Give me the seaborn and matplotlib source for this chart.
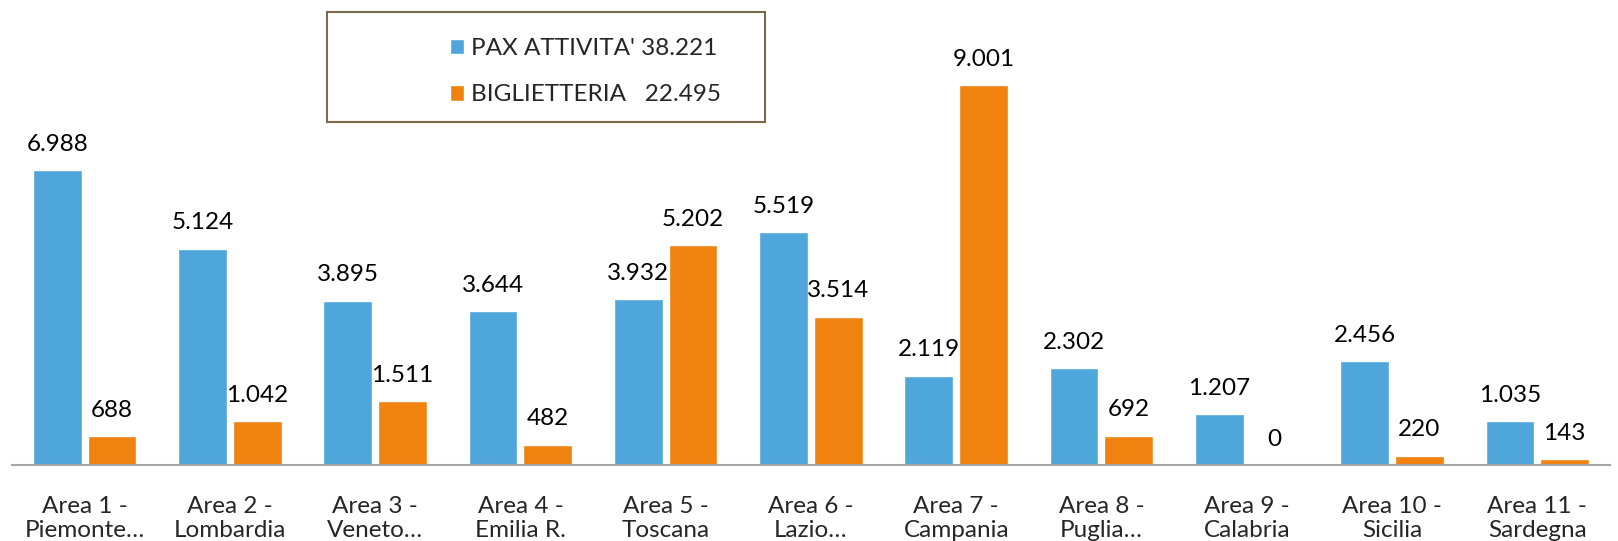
import pandas as pd
import matplotlib.pyplot as plt
import seaborn as sns
from matplotlib.patches import Rectangle

# Data
areas = ["Area 1 -\nPiemonte…", "Area 2 -\nLombardia", "Area 3 -\nVeneto…", "Area 4 -\nEmilia R.",
         "Area 5 -\nToscana", "Area 6 -\nLazio…", "Area 7 -\nCampania", "Area 8 -\nPuglia…",
         "Area 9 -\nCalabria", "Area 10 -\nSicilia", "Area 11 -\nSardegna"]
pax = [6988, 5124, 3895, 3644, 3932, 5519, 2119, 2302, 1207, 2456, 1035]
biglietteria = [688, 1042, 1511, 482, 5202, 3514, 9001, 692, 0, 220, 143]
series = ["PAX ATTIVITA' 38.221", "BIGLIETTERIA   22.495"]

df = pd.DataFrame({
    "area": areas * 2,
    "value": pax + biglietteria,
    "serie": [series[0]] * len(areas) + [series[1]] * len(areas),
})

sns.set_style("white")
plt.rcParams["font.family"] = ["Lato", "DejaVu Sans"]

fig = plt.figure(figsize=(16.18, 5.41), dpi=100)
ax = fig.add_axes([0.0074, 0.1405, 0.9876, 0.8595])

sns.barplot(data=df, x="area", y="value", hue="serie", order=areas, hue_order=series,
            palette=["#4EA6DA", "#F0820F"], saturation=1, width=0.754, gap=0.11, ax=ax,
            legend=True)

for cont in ax.containers:
    labels = [f"{v:,.0f}".replace(",", ".") for v in cont.datavalues]
    ax.bar_label(cont, labels=labels, padding=11, fontsize=17.5, color="black")

ax.set_xlim(-0.5, 10.5)
ax.set_ylim(0, 11014)
ax.set_xlabel("")
ax.set_ylabel("")
ax.set_yticks([])
for s in ["top", "left", "right"]:
    ax.spines[s].set_visible(False)
ax.spines["bottom"].set_color("#A6A6A6")
ax.spines["bottom"].set_linewidth(1.5)
ax.tick_params(axis="x", length=0, pad=22, labelsize=17.5)
for t in ax.get_xticklabels():
    t.set_linespacing(1.2)

# legend with wide framed box
fig.patches.append(Rectangle((327 / 1618, 1 - 122 / 541), (765 - 327) / 1618, (122 - 12) / 541,
                             transform=fig.transFigure, fill=False, edgecolor="#7A6A4A", lw=1.5))
ax.legend(loc="upper left", bbox_to_anchor=(428 / 1618, 1 - 16 / 541), bbox_transform=fig.transFigure,
          frameon=False, fontsize=17.5, handlelength=0.6, handleheight=0.6, handletextpad=0.25,
          labelspacing=1.05)

fig.savefig("out.png", dpi=100)
